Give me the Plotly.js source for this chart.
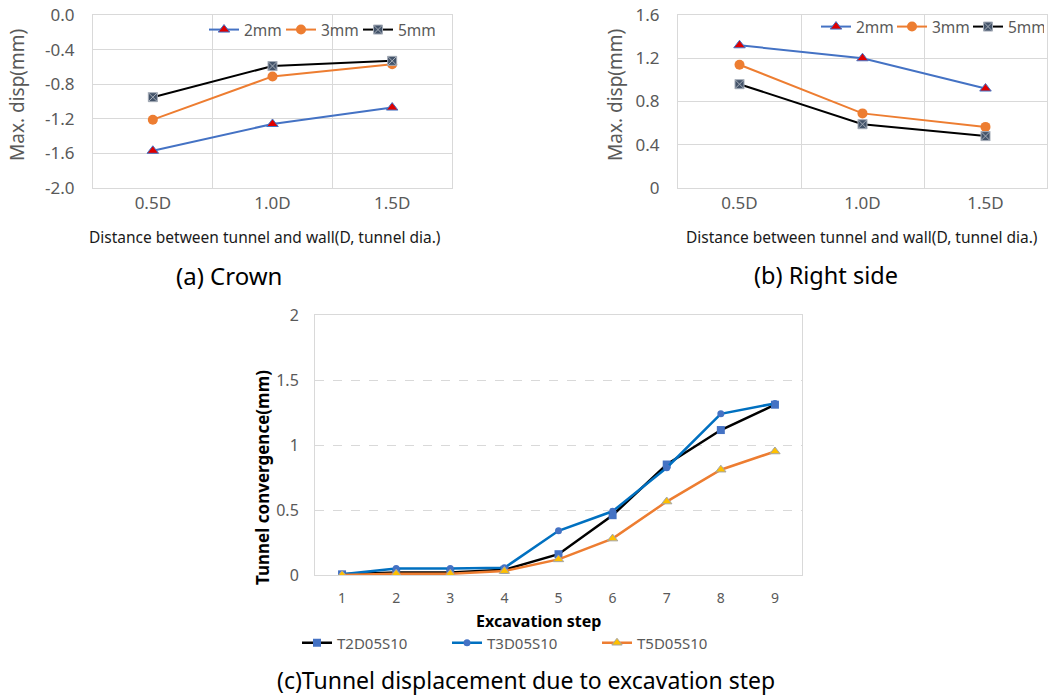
<!DOCTYPE html>
<html>
<head>
<meta charset="utf-8">
<script src="https://cdn.plot.ly/plotly-3.0.1.min.js"></script>
<style>html,body{margin:0;padding:0;background:#fff;}#chart{width:1050px;height:695px;}</style>
</head>
<body>
<div id="chart"></div>
<script>
// ---- data ----
const distCats = ['0.5D', '1.0D', '1.5D'];
const crown2mm = [-1.57, -1.26, -1.07];
const crown3mm = [-1.21, -0.71, -0.57];
const crown5mm = [-0.95, -0.59, -0.53];
const right2mm = [1.32, 1.20, 0.92];
const right3mm = [1.14, 0.69, 0.565];
const right5mm = [0.96, 0.59, 0.48];
const crownTickVals = [0, -0.4, -0.8, -1.2, -1.6, -2.0];
const crownTickText = ['0.0', '-0.4', '-0.8', '-1.2', '-1.6', '-2.0'];
const rightTickVals = [0, 0.4, 0.8, 1.2, 1.6];
const rightTickText = ['0', '0.4', '0.8', '1.2', '1.6'];
const steps = ['1', '2', '3', '4', '5', '6', '7', '8', '9'];
const t2d = [0.005, 0.02, 0.02, 0.04, 0.16, 0.46, 0.85, 1.115, 1.31];
const t3d = [0.005, 0.05, 0.05, 0.055, 0.34, 0.49, 0.825, 1.24, 1.32];
const t5d = [0.0, 0.01, 0.01, 0.03, 0.12, 0.28, 0.565, 0.81, 0.95];

const FONT = 'Noto Sans, Open Sans, sans-serif';
const GRAY = '#595959';
const GRID = '#d9d9d9';

function px(x) { return x / 1050; }
function py(y) { return 1 - y / 695; }

const s2 = {mode: 'lines+markers', line: {color: '#4472C4', width: 2},
  marker: {symbol: 'triangle-up', size: 10, color: '#E00000', line: {color: '#4472C4', width: 1}}};
const s3 = {mode: 'lines+markers', line: {color: '#ED7D31', width: 2},
  marker: {symbol: 'circle', size: 10, color: '#ED7D31'}};
const s5 = {mode: 'lines+markers', line: {color: '#000000', width: 2},
  marker: {symbol: 'square-x', size: 9, color: '#44546A', line: {color: '#a6adb8', width: 1}}};

const traces = [
  Object.assign({x: distCats, y: crown2mm, name: '2mm', xaxis: 'x', yaxis: 'y', legend: 'legend'}, s2),
  Object.assign({x: distCats, y: crown3mm, name: '3mm', xaxis: 'x', yaxis: 'y', legend: 'legend'}, s3),
  Object.assign({x: distCats, y: crown5mm, name: '5mm', xaxis: 'x', yaxis: 'y', legend: 'legend'}, s5),
  Object.assign({x: distCats, y: right2mm, name: '2mm', xaxis: 'x2', yaxis: 'y2', legend: 'legend2'}, s2),
  Object.assign({x: distCats, y: right3mm, name: '3mm', xaxis: 'x2', yaxis: 'y2', legend: 'legend2'}, s3),
  Object.assign({x: distCats, y: right5mm, name: '5mm', xaxis: 'x2', yaxis: 'y2', legend: 'legend2'}, s5),
  {x: steps, y: t2d, name: 'T2D05S10', xaxis: 'x3', yaxis: 'y3', legend: 'legend3', mode: 'lines+markers',
   line: {color: '#000000', width: 2.5}, marker: {symbol: 'square', size: 8, color: '#4472C4'}},
  {x: steps, y: t3d, name: 'T3D05S10', xaxis: 'x3', yaxis: 'y3', legend: 'legend3', mode: 'lines+markers',
   line: {color: '#0070C0', width: 2.5}, marker: {symbol: 'circle', size: 7, color: '#4472C4'}},
  {x: steps, y: t5d, name: 'T5D05S10', xaxis: 'x3', yaxis: 'y3', legend: 'legend3', mode: 'lines+markers',
   line: {color: '#ED7D31', width: 2.5}, marker: {symbol: 'triangle-up', size: 9, color: '#FFC000', line: {color: '#A5A5A5', width: 1}}}
];

const catAxis = {
  type: 'category', range: [-0.5, 2.5], tickson: 'boundaries', ticks: '', showgrid: true, gridcolor: GRID,
  showline: true, mirror: true, linecolor: GRID, zeroline: false, fixedrange: true,
  tickfont: {family: FONT, size: 17, color: GRAY}, ticklabelstandoff: 0
};

const legendBase = {orientation: 'h', bgcolor: 'rgba(0,0,0,0)', font: {family: FONT, size: 15.5, color: GRAY},
  xanchor: 'left', yanchor: 'middle', itemclick: false, itemdoubleclick: false, tracegroupgap: 0,
  entrywidthmode: 'pixels', entrywidth: 32};

function ann(text, x, y, size, color, angle) {
  return {text: text, xref: 'paper', yref: 'paper', x: px(x), y: py(y), xanchor: 'center', yanchor: 'middle',
    textangle: angle || 0, showarrow: false, font: {family: FONT, size: size, color: color}};
}

const layout = {
  width: 1050, height: 695, margin: {l: 0, r: 0, t: 0, b: 0}, paper_bgcolor: '#fff', plot_bgcolor: '#fff',
  showlegend: true, font: {family: FONT, color: GRAY},
  xaxis: Object.assign({}, catAxis, {domain: [px(93), px(452)], anchor: 'y'}),
  yaxis: {domain: [py(188), py(15)], anchor: 'x', range: [-2, 0], tickvals: crownTickVals, ticktext: crownTickText,
    showgrid: true, gridcolor: GRID, showline: true, mirror: true, linecolor: GRID, zeroline: false, ticks: '',
    tickfont: {family: FONT, size: 17, color: GRAY}, ticklabelstandoff: 14, fixedrange: true},
  xaxis2: Object.assign({}, catAxis, {domain: [px(678), px(1047)], anchor: 'y2'}),
  yaxis2: {domain: [py(188), py(15)], anchor: 'x2', range: [0, 1.6], tickvals: rightTickVals, ticktext: rightTickText,
    showgrid: true, gridcolor: GRID, showline: true, mirror: true, linecolor: GRID, zeroline: false, ticks: '',
    tickfont: {family: FONT, size: 17, color: GRAY}, ticklabelstandoff: 14, fixedrange: true},
  xaxis3: {domain: [px(315), px(802)], anchor: 'y3', type: 'category', range: [-0.5, 8.5], ticks: '', showgrid: false,
    showline: true, mirror: true, linecolor: GRID, zeroline: false, fixedrange: true,
    tickfont: {family: FONT, size: 14, color: GRAY}, ticklabelstandoff: 10},
  yaxis3: {domain: [py(575), py(315)], anchor: 'x3', range: [0, 2], dtick: 0.5, showgrid: true, gridcolor: GRID,
    griddash: 'dash', showline: true, mirror: true, linecolor: GRID, zeroline: false, ticks: '',
    tickfont: {family: FONT, size: 16, color: GRAY}, ticklabelstandoff: 12, fixedrange: true},
  legend: Object.assign({}, legendBase, {x: px(204), y: py(30)}),
  legend2: Object.assign({}, legendBase, {x: px(816), y: py(27), entrywidth: 31}),
  legend3: Object.assign({}, legendBase, {x: px(297), y: py(643), entrywidth: 105, font: {family: FONT, size: 15, color: GRAY}}),
  annotations: [
    ann('Max. disp(mm)', 17, 95, 19, GRAY, -90),
    ann('Distance between tunnel and wall(D, tunnel dia.)', 265, 237, 15.5, '#1a1a1a'),
    ann('Max. disp(mm)', 615, 95, 19, GRAY, -90),
    ann('Distance between tunnel and wall(D, tunnel dia.)', 862, 237, 15.5, '#1a1a1a'),
    ann('(a) Crown', 229, 275, 24, '#000'),
    ann('(b) Right side', 826, 275, 23.5, '#000'),
    ann('<b>Tunnel convergence(mm)</b>', 262, 478, 17, '#000', -90),
    ann('<b>Excavation step</b>', 538, 621, 16, '#000'),
    ann('(c)Tunnel displacement due to excavation step', 526, 680, 23, '#000')
  ]
};

Plotly.newPlot('chart', traces, layout, {displayModeBar: false, staticPlot: true});
</script>
</body>
</html>
